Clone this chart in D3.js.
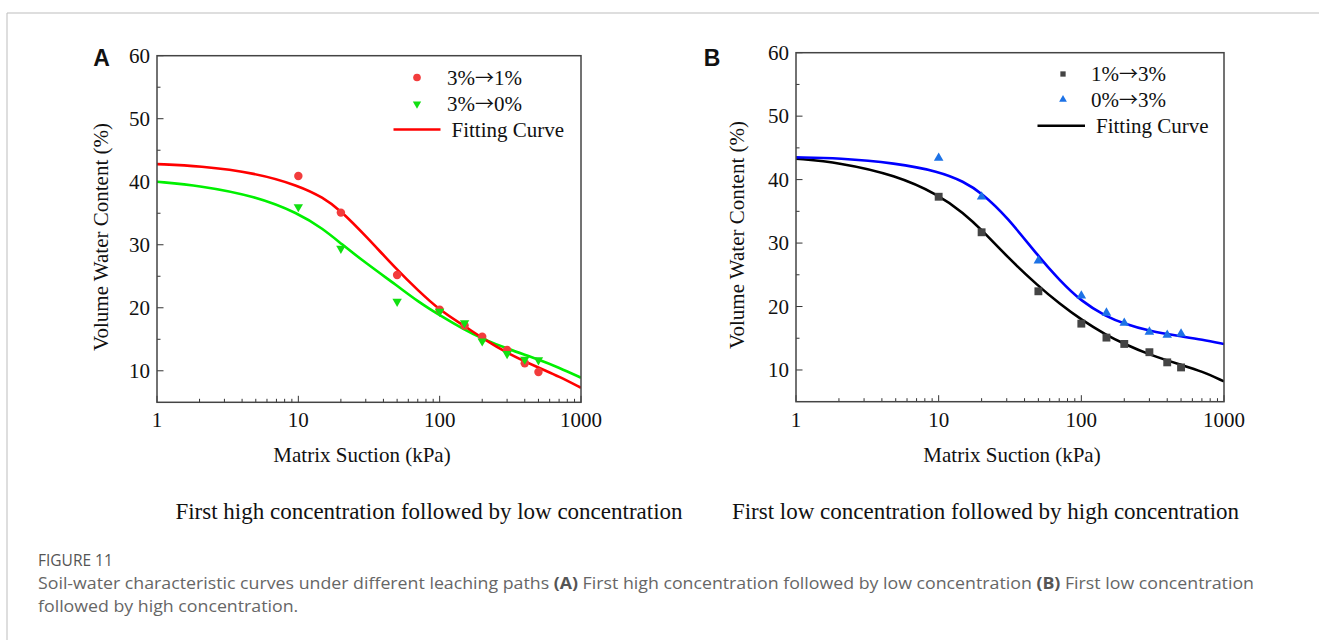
<!DOCTYPE html>
<meta charset="utf-8">
<script src="https://d3js.org/d3.v7.min.js"></script>
<style>
  body { margin: 0; background: #fff; }
  svg text.serif { font-family: "Liberation Serif", "Times New Roman", serif; }
  svg text.sans { font-family: "Open Sans", "Noto Sans", sans-serif; }
  svg tspan.arrow { font-family: "Noto Sans CJK SC", "DejaVu Sans", sans-serif; }
</style>
<div id="chart"></div>
<script>
// data
var suction = [10, 20, 50, 100, 150, 200, 300, 400, 500];
var seriesA1 = [40.9, 35.1, 25.2, 19.7, 17.2, 15.4, 13.3, 11.2, 9.8];   // 3%->1%
var seriesA0 = [36.0, 29.4, 21.0, 19.4, 17.6, 14.7, 12.7, 11.8, 11.7];  // 3%->0%
var seriesB1 = [37.3, 31.7, 22.4, 17.3, 15.1, 14.1, 12.8, 11.2, 10.4];  // 1%->3%
var seriesB0 = [43.4, 37.3, 27.2, 21.7, 19.0, 17.4, 16.0, 15.5, 15.7];  // 0%->3%

// fitting curves, sampled off the figure
var fitX  = [1, 2, 5, 10, 15, 20, 30, 50, 70, 100, 150, 200, 300, 500, 700, 1000];
var fitA1 = [42.8, 42.5, 41.4, 39.4, 37.5, 35.4, 31.4, 26.0, 22.8, 19.6, 17.1, 15.2, 12.8, 10.5, 9.1, 7.3];
var fitA0 = [40.0, 39.4, 37.7, 35.0, 32.5, 30.2, 27.1, 23.5, 21.0, 18.8, 16.5, 15.1, 13.5, 11.8, 10.5, 8.9];
var fitB1 = [43.3, 42.7, 40.7, 37.6, 34.7, 32.1, 27.9, 23.2, 20.5, 17.9, 15.5, 14.1, 12.4, 10.8, 9.8, 8.2];
var fitB0 = [43.5, 43.4, 42.6, 41.3, 39.7, 37.9, 34.2, 27.9, 24.2, 20.8, 18.4, 17.3, 16.1, 15.3, 14.8, 14.1];

var xTicks = [1, 10, 100, 1000];
var yTicks = [10, 20, 30, 40, 50, 60];

var W = 1319, H = 640;
var svg = d3.select("#chart").append("svg")
    .attr("width", W).attr("height", H);

// page frame lines
svg.append("line").attr("x1", 7).attr("x2", W).attr("y1", 13).attr("y2", 13)
    .attr("stroke", "#bdbdbd").attr("stroke-width", 1);
svg.append("line").attr("x1", 7).attr("x2", 7).attr("y1", 13).attr("y2", H)
    .attr("stroke", "#bdbdbd").attr("stroke-width", 1);

function drawPanel(p) {
  var x = d3.scaleLog().domain([1, 1000]).range([p.left, p.right]);
  var y = d3.scaleLinear().domain([5, 60]).range([p.bottom, p.top]);
  var g = svg.append("g");

  // minor ticks
  var minorX = [];
  [1, 10, 100].forEach(function(d) { for (var k = 2; k <= 9; k++) minorX.push(d * k); });
  g.selectAll(".mx").data(minorX).enter().append("line")
    .attr("x1", d => x(d)).attr("x2", d => x(d))
    .attr("y1", p.bottom).attr("y2", p.bottom - 3.5)
    .attr("stroke", "#333").attr("stroke-width", 1);
  g.selectAll(".Mx").data(xTicks).enter().append("line")
    .attr("x1", d => x(d)).attr("x2", d => x(d))
    .attr("y1", p.bottom).attr("y2", p.bottom - 6.5)
    .attr("stroke", "#333").attr("stroke-width", 1);
  var minorY = [15, 25, 35, 45, 55];
  g.selectAll(".my").data(minorY).enter().append("line")
    .attr("x1", p.left).attr("x2", p.left + 3.5)
    .attr("y1", d => y(d)).attr("y2", d => y(d))
    .attr("stroke", "#333").attr("stroke-width", 1);
  g.selectAll(".My").data(yTicks).enter().append("line")
    .attr("x1", p.left).attr("x2", p.left + 6.5)
    .attr("y1", d => y(d)).attr("y2", d => y(d))
    .attr("stroke", "#333").attr("stroke-width", 1);

  // tick labels
  g.selectAll(".xl").data(xTicks).enter().append("text").attr("class", "serif")
    .attr("x", d => x(d)).attr("y", p.bottom + 25)
    .attr("text-anchor", "middle").attr("font-size", 21).attr("fill", "#111")
    .text(d => d);
  g.selectAll(".yl").data(yTicks).enter().append("text").attr("class", "serif")
    .attr("x", p.left - 7).attr("y", d => y(d) + 7)
    .attr("text-anchor", "end").attr("font-size", 21).attr("fill", "#111")
    .text(d => d);

  // axis titles
  g.append("text").attr("class", "serif").attr("x", p.xTitleX).attr("y", 462)
    .attr("text-anchor", "middle").attr("font-size", 21).attr("fill", "#111")
    .text("Matrix Suction (kPa)");
  g.append("text").attr("class", "serif")
    .attr("transform", "translate(" + p.yTitleX + "," + p.yTitleY + ") rotate(-90)")
    .attr("text-anchor", "middle").attr("font-size", 21).attr("fill", "#111")
    .text("Volume Water Content (%)");

  // panel letter
  g.append("text").attr("x", p.letterX).attr("y", 66)
    .attr("text-anchor", "middle").attr("font-size", 23).attr("font-weight", "bold")
    .style("font-family", "'Liberation Sans', Arial, sans-serif").attr("fill", "#111")
    .text(p.letter);

  // subtitle
  g.append("text").attr("class", "serif").attr("x", p.subX).attr("y", 519)
    .attr("text-anchor", "middle").attr("font-size", 23).attr("fill", "#111")
    .text(p.subtitle);

  // clip
  var clipId = "clip" + p.letter;
  svg.append("clipPath").attr("id", clipId).append("rect")
    .attr("x", p.left).attr("y", p.top)
    .attr("width", p.right - p.left).attr("height", p.bottom - p.top);

  var line = d3.line().x(d => x(d[0])).y(d => y(d[1])).curve(d3.curveBasis);
  p.curves.forEach(function(c) {
    g.append("path").datum(d3.zip(fitX, c.values))
      .attr("d", line).attr("fill", "none")
      .attr("stroke", c.color).attr("stroke-width", 2.6)
      .attr("clip-path", "url(#" + clipId + ")");
  });

  // points
  p.series.forEach(function(s) {
    var sym = d3.symbol().type(s.type).size(s.size);
    g.selectAll(null).data(d3.zip(suction, s.values)).enter().append("path")
      .attr("d", sym)
      .attr("transform", d => "translate(" + x(d[0]) + "," + y(d[1]) + ")" + (s.flip ? " rotate(180)" : ""))
      .attr("fill", s.color);
  });

  // frame
  g.append("rect").attr("x", p.left).attr("y", p.top)
    .attr("width", p.right - p.left).attr("height", p.bottom - p.top)
    .attr("fill", "none").attr("stroke", "#444").attr("stroke-width", 1.5);

  // legend
  var lg = g.append("g");
  p.series.forEach(function(s, i) {
    var ly = p.legY[i];
    lg.append("path").attr("d", d3.symbol().type(s.type).size(s.legSize))
      .attr("transform", "translate(" + p.legSymX + "," + ly + ")" + (s.flip ? " rotate(180)" : ""))
      .attr("fill", s.color);
    var t = lg.append("text").attr("class", "serif").attr("x", p.legTextX).attr("y", ly + 7)
      .attr("font-size", 21).attr("fill", "#111");
    var parts = s.label.split("\u2192");
    t.append("tspan").text(parts[0]);
    t.append("tspan").attr("class", "arrow").attr("font-size", 19).text("\u2192");
    t.append("tspan").text(parts[1]);
  });
  lg.append("line").attr("x1", p.legLineX[0]).attr("x2", p.legLineX[1])
    .attr("y1", p.legY[2]).attr("y2", p.legY[2])
    .attr("stroke", p.legLineColor).attr("stroke-width", 2.6);
  lg.append("text").attr("class", "serif").attr("x", p.legLineX[1] + 11).attr("y", p.legY[2] + 7)
    .attr("font-size", 21).attr("fill", "#111").text("Fitting Curve");
}

drawPanel({
  letter: "A", letterX: 101.5,
  left: 157, right: 581, top: 55.7, bottom: 402.3,
  xTitleX: 362, yTitleX: 108, yTitleY: 237,
  subX: 429, subtitle: "First high concentration followed by low concentration",
  curves: [{ values: fitA0, color: "#00f000" }, { values: fitA1, color: "#ff0000" }],
  series: [
    { label: "3%\u21921%", values: seriesA1, type: d3.symbolCircle, size: 56, legSize: 46, color: "#f23c3c" },
    { label: "3%\u21920%", values: seriesA0, type: d3.symbolTriangle, size: 38, legSize: 30, color: "#12e012", flip: true }
  ],
  legSymX: 417, legTextX: 447, legY: [77.5, 104, 129.5],
  legLineX: [393.5, 440.5], legLineColor: "#ff0000"
});

drawPanel({
  letter: "B", letterX: 712,
  left: 796, right: 1224, top: 52.7, bottom: 401.7,
  xTitleX: 1012, yTitleX: 744, yTitleY: 235,
  subX: 985.5, subtitle: "First low concentration followed by high concentration",
  curves: [{ values: fitB1, color: "#000000" }, { values: fitB0, color: "#0000ff" }],
  series: [
    { label: "1%\u21923%", values: seriesB1, type: d3.symbolSquare, size: 62, legSize: 28, color: "#444444" },
    { label: "0%\u21923%", values: seriesB0, type: d3.symbolTriangle, size: 40, legSize: 26, color: "#1d72e6" }
  ],
  legSymX: 1063, legTextX: 1091, legY: [74, 99.5, 125.7],
  legLineX: [1037.5, 1085], legLineColor: "#000000"
});

// caption
var cap = svg.append("g");
cap.append("text").attr("class", "sans").attr("x", 38).attr("y", 566).attr("font-size", 15.5)
  .attr("fill", "#555").text("FIGURE 11");
var l1 = cap.append("text").attr("class", "sans").attr("x", 38).attr("y", 589)
  .attr("font-size", 16).attr("fill", "#666");
l1.append("tspan").text("Soil-water characteristic curves under different leaching paths ");
l1.append("tspan").attr("font-weight", "bold").attr("fill", "#555").text("(A)");
l1.append("tspan").text(" First high concentration followed by low concentration ");
l1.append("tspan").attr("font-weight", "bold").attr("fill", "#555").text("(B)");
l1.append("tspan").text(" First low concentration");
var l2 = cap.append("text").attr("class", "sans").attr("x", 38).attr("y", 612)
  .attr("font-size", 16).attr("fill", "#666")
  .text("followed by high concentration.");
// fit caption lines to the figure width (narrower original face)
var w1 = l1.node().getComputedTextLength();
if (w1 > 0) {
  var k = 1216 / w1;
  l1.attr("textLength", 1216).attr("lengthAdjust", "spacingAndGlyphs");
  l2.attr("textLength", l2.node().getComputedTextLength() * k).attr("lengthAdjust", "spacingAndGlyphs");
}
</script>
